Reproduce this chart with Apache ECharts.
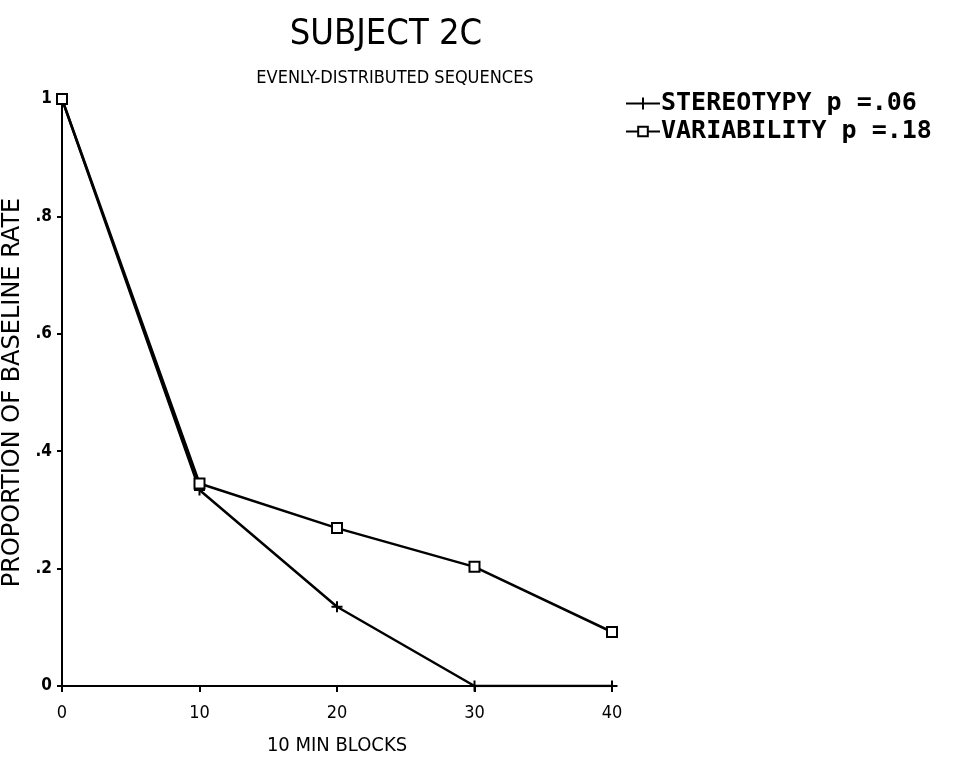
<!DOCTYPE html>
<html><head><meta charset="utf-8">
<script src="https://cdn.jsdelivr.net/npm/echarts@6/dist/echarts.min.js"></script>
<style>html,body{margin:0;padding:0;background:#fff}#c{width:959px;height:765px}</style>
</head><body><div id="c"></div>
<script>
var xValues = [0, 10, 20, 30, 40];
var stereotypy = [1.0, 0.334, 0.135, 0.0, 0.0];
var variability = [1.0, 0.345, 0.269, 0.203, 0.092];
var yTickLabels = {0: '0', 0.2: '.2', 0.4: '.4', 0.6: '.6', 0.8: '.8', 1: '1'};
var seriesNames = ['STEREOTYPY p =.06', 'VARIABILITY p =.18'];
var titleText = 'SUBJECT 2C';
var subtitleText = 'EVENLY-DISTRIBUTED SEQUENCES';
var xName = '10 MIN BLOCKS';
var yName = 'PROPORTION OF BASELINE RATE';

var crossPath = 'path://M0,5L10,5M5,0L5,10';
function pairs(v){ return xValues.map(function(x,i){ return [x, v[i]]; }); }
var narrow = '"Liberation Sans Narrow","DejaVu Sans Condensed","Liberation Sans",sans-serif';
var chart = echarts.init(document.getElementById('c'));
chart.setOption({
  animation: false,
  backgroundColor: '#fff',
  title: [
    {text: titleText, left: 381, top: 12, textAlign: 'center',
     textStyle: {fontFamily: narrow, fontSize: 36, fontWeight: 'normal', color: '#000'}},
    {text: subtitleText, left: 390, top: 64, textAlign: 'center',
     textStyle: {fontFamily: narrow, fontSize: 18, fontWeight: 'normal', color: '#000'}}
  ],
  legend: {
    orient: 'vertical', left: 620, top: 86, itemGap: 3, itemWidth: 34, itemHeight: 12,
    textStyle: {fontFamily: '"DejaVu Sans Mono",monospace', fontWeight: 'bold', fontSize: 25, color: '#000', padding: [0,0,0,-4]},
    data: [
      {name: seriesNames[0], icon: 'path://M0,6L34,6M17,0L17,12'},
      {name: seriesNames[1]}
    ]
  },
  grid: {left: 62, right: 347, top: 99, bottom: 79, containLabel: false, outerBoundsMode: 'none'},
  xAxis: {
    type: 'value', min: 0, max: 40, interval: 10,
    name: xName, nameLocation: 'middle', nameGap: 50,
    nameTextStyle: {fontFamily: narrow, fontSize: 20, color: '#000'},
    axisLine: {lineStyle: {color: '#000', width: 2}},
    axisTick: {show: true, length: 6, inside: false, lineStyle: {color: '#000', width: 2}},
    axisLabel: {color: '#000', fontFamily: narrow, fontSize: 18, margin: 18},
    splitLine: {show: false}
  },
  yAxis: {
    type: 'value', min: 0, max: 1, interval: 0.2,
    name: yName, nameLocation: 'middle', nameGap: 32, nameRotate: 90,
    nameTextStyle: {fontFamily: '"DejaVu Sans",sans-serif', fontSize: 24, color: '#000'},
    axisLine: {show: true, lineStyle: {color: '#000', width: 2}},
    axisTick: {show: true, length: 5, lineStyle: {color: '#000', width: 2}},
    axisLabel: {color: '#000', fontFamily: narrow, fontSize: 17, fontWeight: 'bold', margin: 10,
      formatter: function(v){ var k = Math.round(v*10)/10; return yTickLabels[k] !== undefined ? yTickLabels[k] : ''; }},
    splitLine: {show: false}
  },
  series: [
    {name: seriesNames[0], type: 'line', data: pairs(stereotypy),
     symbol: crossPath, symbolSize: 11, showSymbol: true,
     lineStyle: {color: '#000', width: 2.5}, itemStyle: {color: '#000', borderColor: '#000', borderWidth: 2}},
    {name: seriesNames[1], type: 'line', data: pairs(variability),
     symbol: 'rect', symbolSize: 10,
     lineStyle: {color: '#000', width: 2.5}, itemStyle: {color: '#fff', borderColor: '#000', borderWidth: 2}}
  ]
});
</script></body></html>
